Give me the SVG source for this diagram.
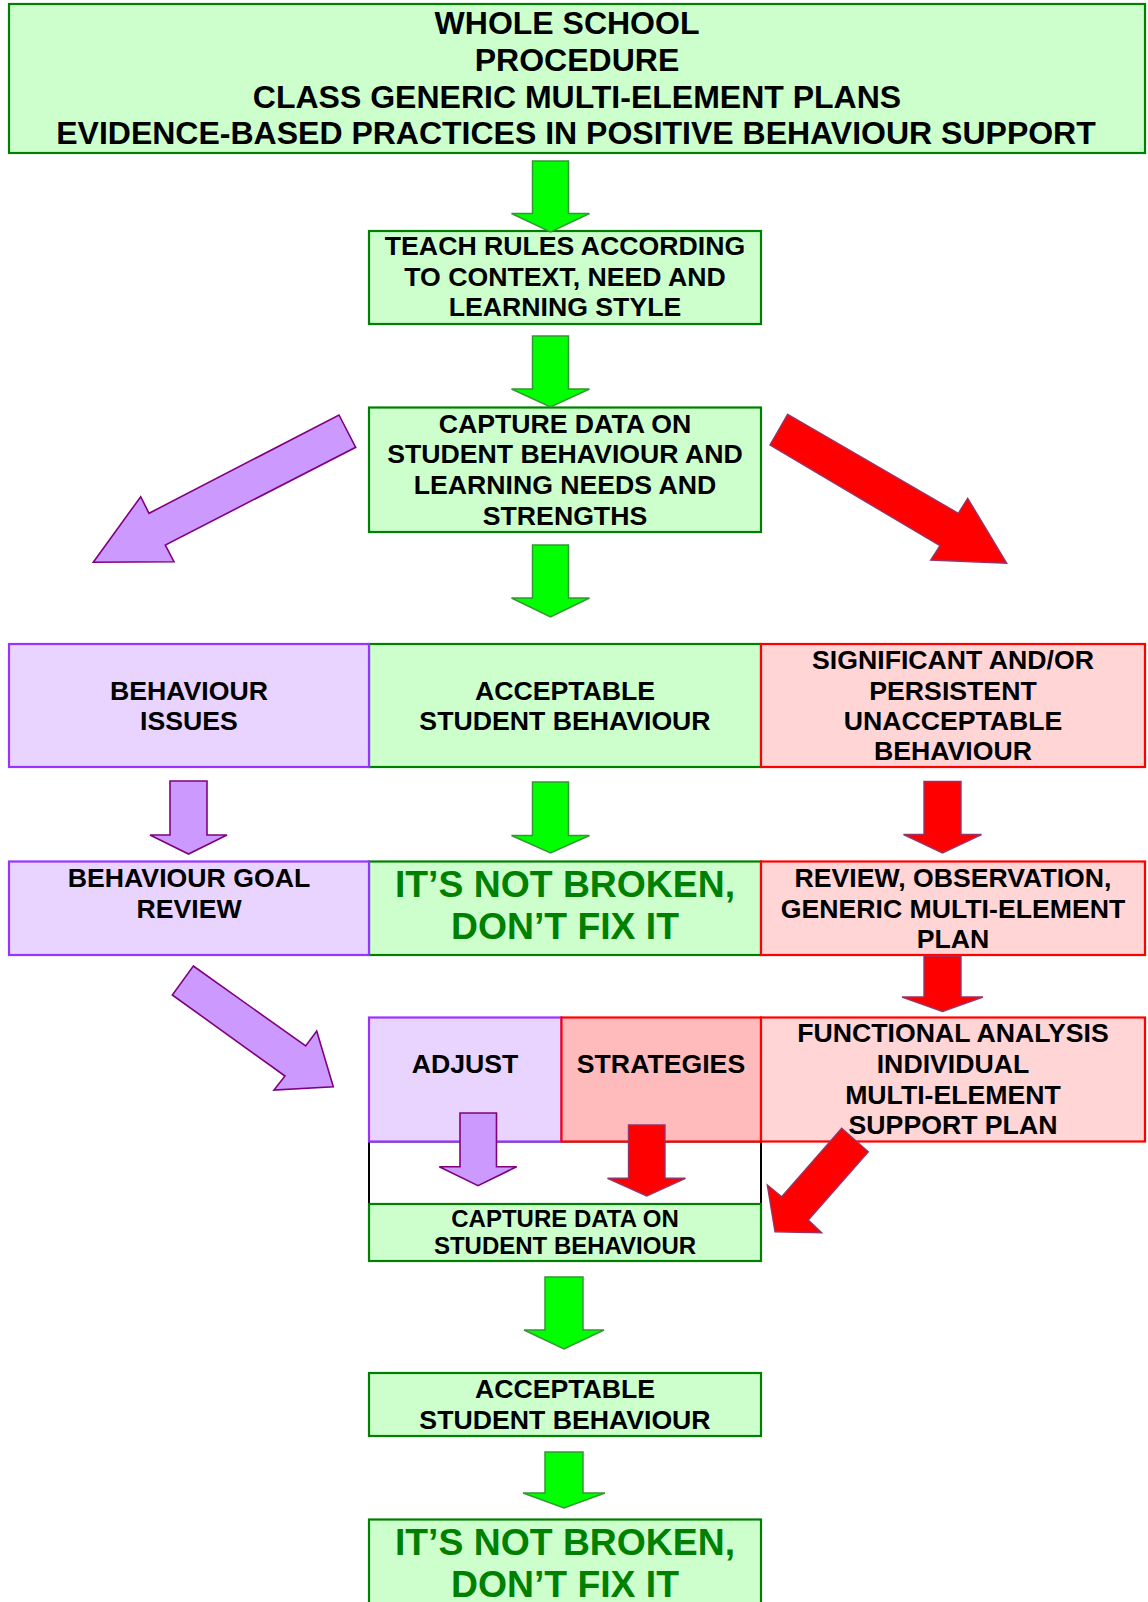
<svg xmlns="http://www.w3.org/2000/svg" width="1148" height="1602" viewBox="0 0 1148 1602">
<style>
text{font-family:"Liberation Sans",Arial,sans-serif;font-weight:bold;text-anchor:middle;fill:#000}
.t32{font-size:32px}
.t26{font-size:26.67px}
.t24{font-size:24px}
.big{font-size:37.33px;fill:#008000}
.g{fill:#CCFFCC;stroke:#008000;stroke-width:2.2}
.p{fill:#E8D4FE;stroke:#9933FF;stroke-width:2.2}
.r{fill:#FFD5D5;stroke:#FF0000;stroke-width:2.2}
.r2{fill:#FFBBBB;stroke:#FF0000;stroke-width:2.2}
.w{fill:#FFFFFF;stroke:#000000;stroke-width:2}
.ag{fill:#00FF00;stroke:#339933;stroke-width:1.5;stroke-linejoin:miter}
.ap{fill:#CC99FF;stroke:#800080;stroke-width:1.6}
.ar{fill:#FF0000;stroke:#993366;stroke-width:1.4}
</style>
<rect width="1148" height="1602" fill="#FFFFFF"/>

<g id="title">
<rect class="g" x="9" y="4" width="1136" height="149"/>
<text class="t32" x="567" y="34">WHOLE SCHOOL</text>
<text class="t32" x="577" y="70.5">PROCEDURE</text>
<text class="t32" x="577" y="107.5">CLASS GENERIC MULTI-ELEMENT PLANS</text>
<text class="t32" x="576" y="144">EVIDENCE-BASED PRACTICES IN POSITIVE BEHAVIOUR SUPPORT</text>
</g>

<g id="teach">
<rect class="g" x="369" y="231" width="392" height="93"/>
<text class="t26" x="565" y="255">TEACH RULES ACCORDING</text>
<text class="t26" x="565" y="285.5">TO CONTEXT, NEED AND</text>
<text class="t26" x="565" y="316">LEARNING STYLE</text>
</g>

<g id="capture1">
<rect class="g" x="369" y="407.5" width="392" height="124.5"/>
<text class="t26" x="565" y="432.5">CAPTURE DATA ON</text>
<text class="t26" x="565" y="463">STUDENT BEHAVIOUR AND</text>
<text class="t26" x="565" y="494">LEARNING NEEDS AND</text>
<text class="t26" x="565" y="525">STRENGTHS</text>
</g>

<g id="acceptable1">
<rect class="g" x="369" y="644" width="392" height="123"/>
<text class="t26" x="565" y="699.5">ACCEPTABLE</text>
<text class="t26" x="565" y="730">STUDENT BEHAVIOUR</text>
</g>

<g id="issues">
<rect class="p" x="9" y="644" width="360" height="123"/>
<text class="t26" x="189" y="699.5">BEHAVIOUR</text>
<text class="t26" x="189" y="730">ISSUES</text>
</g>

<g id="significant">
<rect class="r" x="761" y="644" width="384" height="123"/>
<text class="t26" x="953" y="668.5">SIGNIFICANT AND/OR</text>
<text class="t26" x="953" y="699.5">PERSISTENT</text>
<text class="t26" x="953" y="730">UNACCEPTABLE</text>
<text class="t26" x="953" y="760">BEHAVIOUR</text>
</g>

<g id="notbroken1">
<rect class="g" x="369" y="861.5" width="392" height="93.5"/>
<text class="big" x="565" y="896.5">IT’S NOT BROKEN,</text>
<text class="big" x="565" y="939">DON’T FIX IT</text>
</g>

<g id="goalreview">
<rect class="p" x="9" y="861.5" width="360" height="93.5"/>
<text class="t26" x="189" y="887">BEHAVIOUR GOAL</text>
<text class="t26" x="189" y="917.5">REVIEW</text>
</g>

<g id="review">
<rect class="r" x="761" y="861.5" width="384" height="93.5"/>
<text class="t26" x="953" y="887">REVIEW, OBSERVATION,</text>
<text class="t26" x="953" y="917.5">GENERIC MULTI-ELEMENT</text>
<text class="t26" x="953" y="947.5">PLAN</text>
</g>

<g id="gap">
<rect class="w" x="369" y="1141.5" width="392" height="62.5"/>
</g>

<g id="adjust">
<rect class="p" x="369" y="1017.5" width="192.5" height="124"/>
<text class="t26" x="465" y="1072.5">ADJUST</text>
</g>

<g id="strategies">
<rect class="r2" x="561.5" y="1017.5" width="199.5" height="124"/>
<text class="t26" x="661" y="1072.5">STRATEGIES</text>
</g>

<g id="functional">
<rect class="r" x="761" y="1017.5" width="384" height="124"/>
<text class="t26" x="953" y="1041.5">FUNCTIONAL ANALYSIS</text>
<text class="t26" x="953" y="1072.5">INDIVIDUAL</text>
<text class="t26" x="953" y="1103.5">MULTI-ELEMENT</text>
<text class="t26" x="953" y="1134">SUPPORT PLAN</text>
</g>

<g id="capture2">
<rect class="g" x="369" y="1204" width="392" height="57"/>
<text class="t24" x="565" y="1226.5">CAPTURE DATA ON</text>
<text class="t24" x="565" y="1254">STUDENT BEHAVIOUR</text>
</g>

<g id="acceptable2">
<rect class="g" x="369" y="1373" width="392" height="63"/>
<text class="t26" x="565" y="1398">ACCEPTABLE</text>
<text class="t26" x="565" y="1429">STUDENT BEHAVIOUR</text>
</g>

<g id="notbroken2">
<rect class="g" x="369" y="1519.5" width="392" height="100"/>
<text class="big" x="565" y="1555">IT’S NOT BROKEN,</text>
<text class="big" x="565" y="1597">DON’T FIX IT</text>
</g>

<g id="connectors">
<polygon class="ag" points="532.5,161 568.5,161 568.5,213.5 589.5,213.5 550.5,232 511.5,213.5 532.5,213.5"/>
<polygon class="ag" points="532.5,336 568.5,336 568.5,389 589.5,389 550.5,407 511.5,389 532.5,389"/>
<polygon class="ag" points="532.5,545 568.5,545 568.5,598 589.5,598 550.5,617 511.5,598 532.5,598"/>
<polygon class="ag" points="532.5,782 568.5,782 568.5,835.5 589.5,835.5 550.5,853 511.5,835.5 532.5,835.5"/>
<polygon class="ap" points="170,781 207,781 207,835 227,835 188.5,854 150,835 170,835"/>
<polygon class="ar" points="924,781.5 961,781.5 961,834.5 981.5,834.5 942.5,853 903.5,834.5 924,834.5"/>
<polygon class="ar" points="924,956 961,956 961,997 983,997 942.5,1011.5 902,997 924,997"/>
<polygon class="ap" points="460,1113 496.5,1113 496.5,1166.7 516.7,1166.7 478,1185.7 439.3,1166.7 460,1166.7"/>
<polygon class="ar" points="628.5,1125 665,1125 665,1178.3 685.5,1178.3 646.7,1196 607.5,1178.3 628.5,1178.3"/>
<polygon class="ag" points="545,1277 583,1277 583,1330 604,1330 564,1349 524,1330 545,1330"/>
<polygon class="ag" points="545,1452 583,1452 583,1493 605,1493 564,1508 523,1493 545,1493"/>
<polygon class="ap" points="339,415 355.7,447.3 165.3,545 174,561.7 93.3,562.3 140.7,496.7 149,513.3"/>
<polygon class="ar" points="787.7,414.3 958.3,513.3 967.7,498.3 1006.7,563.3 930.7,560 940,545.7 770,445"/>
<polygon class="ap" points="193.3,966 305.7,1046 316.7,1031 333.3,1086.7 274,1090 285,1076 172.3,995"/>
<polygon class="ar" points="841.7,1128.3 868.3,1151.7 808.3,1220 821.7,1232.7 775,1231.7 767.3,1185 781.7,1196.7"/>
</g>
</svg>
